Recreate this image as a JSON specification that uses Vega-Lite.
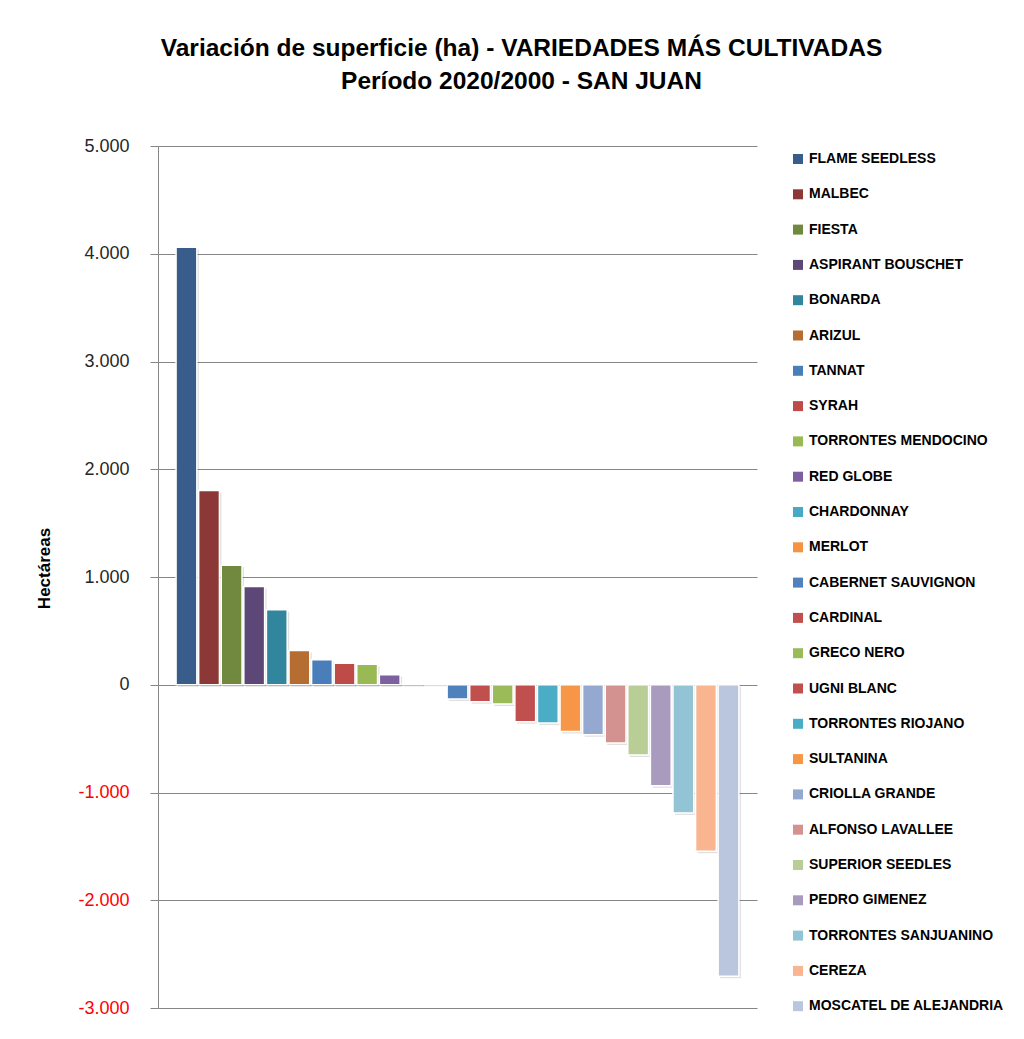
{
  "$schema": "https://vega.github.io/schema/vega-lite/v6.json",
  "autosize": {"type": "none"},
  "width": 599,
  "height": 862,
  "padding": {"left": 158, "top": 146, "right": 267, "bottom": 31},
  "background": "white",
  "config": {"view": {"stroke": null}, "font": "Liberation Sans"},
  "title": {
    "text": ["Variación de superficie (ha) - VARIEDADES MÁS CULTIVADAS", "Período 2020/2000 - SAN JUAN"],
    "fontSize": 24.5,
    "fontWeight": "bold",
    "color": "#000000",
    "anchor": "middle",
    "dx": 64,
    "lineHeight": 33,
    "offset": 43,
    "font": "Liberation Sans"
  },
  "data": {
    "values": [
      {"variedad": "FLAME SEEDLESS", "ha": 4060},
      {"variedad": "MALBEC", "ha": 1802},
      {"variedad": "FIESTA", "ha": 1108},
      {"variedad": "ASPIRANT BOUSCHET", "ha": 912},
      {"variedad": "BONARDA", "ha": 696},
      {"variedad": "ARIZUL", "ha": 318},
      {"variedad": "TANNAT", "ha": 232},
      {"variedad": "SYRAH", "ha": 200},
      {"variedad": "TORRONTES MENDOCINO", "ha": 191},
      {"variedad": "RED GLOBE", "ha": 93},
      {"variedad": "CHARDONNAY", "ha": 4},
      {"variedad": "MERLOT", "ha": -2},
      {"variedad": "CABERNET SAUVIGNON", "ha": -133},
      {"variedad": "CARDINAL", "ha": -158},
      {"variedad": "GRECO NERO", "ha": -179},
      {"variedad": "UGNI BLANC", "ha": -343},
      {"variedad": "TORRONTES RIOJANO", "ha": -356},
      {"variedad": "SULTANINA", "ha": -433},
      {"variedad": "CRIOLLA GRANDE", "ha": -464},
      {"variedad": "ALFONSO LAVALLEE", "ha": -541},
      {"variedad": "SUPERIOR SEEDLES", "ha": -652},
      {"variedad": "PEDRO GIMENEZ", "ha": -937},
      {"variedad": "TORRONTES SANJUANINO", "ha": -1190},
      {"variedad": "CEREZA", "ha": -1546},
      {"variedad": "MOSCATEL DE ALEJANDRIA", "ha": -2706}
    ]
  },
  "encoding": {
    "x": {
      "field": "variedad",
      "type": "nominal",
      "sort": null,
      "axis": null,
      "scale": {"paddingInner": 0.08, "paddingOuter": 0.8}
    },
    "y": {
      "field": "ha",
      "type": "quantitative",
      "scale": {"domain": [-3000, 5000], "nice": false, "zero": false},
      "axis": {
        "values": [-3000, -2000, -1000, 0, 1000, 2000, 3000, 4000, 5000],
        "title": "Hectáreas",
        "titleFontSize": 17,
        "titleFontWeight": "bold",
        "titleColor": "#000000",
        "titleX": -114,
        "titleY": 422,
        "titleAngle": 270,
        "titleAlign": "center",
        "titleBaseline": "middle",
        "labelExpr": "(datum.value < 0 ? '-' : '') + replace(format(abs(datum.value), ','), ',', '.')",
        "labelFontSize": 18,
        "labelColor": {"condition": {"test": "datum.value < 0", "value": "#FF0000"}, "value": "#262626"},
        "labelPadding": 21,
        "tickSize": 8,
        "tickColor": "#868686",
        "domainColor": "#868686",
        "gridColor": "#868686",
        "gridWidth": 1
      }
    }
  },
  "layer": [
    {
      "mark": {"type": "bar", "color": "#000000", "opacity": 0.12, "xOffset": 2, "yOffset": 2}
    },
    {
      "mark": {"type": "bar", "stroke": "#FFFFFF", "strokeWidth": 1.5},
      "encoding": {
        "color": {
          "field": "variedad",
          "type": "nominal",
          "scale": {
            "domain": ["FLAME SEEDLESS", "MALBEC", "FIESTA", "ASPIRANT BOUSCHET", "BONARDA", "ARIZUL", "TANNAT", "SYRAH", "TORRONTES MENDOCINO", "RED GLOBE", "CHARDONNAY", "MERLOT", "CABERNET SAUVIGNON", "CARDINAL", "GRECO NERO", "UGNI BLANC", "TORRONTES RIOJANO", "SULTANINA", "CRIOLLA GRANDE", "ALFONSO LAVALLEE", "SUPERIOR SEEDLES", "PEDRO GIMENEZ", "TORRONTES SANJUANINO", "CEREZA", "MOSCATEL DE ALEJANDRIA"],
            "range": ["#385D8A", "#8C3836", "#71893F", "#5C4776", "#31859C", "#B66D31", "#4A7EBB", "#BE4B48", "#98B954", "#7D60A0", "#46AAC5", "#F69240", "#4F81BD", "#C0504D", "#9BBB59", "#C0504D", "#4BACC6", "#F79646", "#95A9D0", "#D39290", "#B9CD96", "#A99BBD", "#92C4D5", "#F9B590", "#B9C6DE"]
          },
          "legend": {
            "title": null,
            "orient": "none",
            "legendX": 633,
            "legendY": 6,
            "symbolType": "square",
            "symbolSize": 100,
            "symbolStrokeWidth": 0,
            "labelFontSize": 14,
            "labelFontWeight": "bold",
            "labelFont": "Liberation Sans",
            "labelOffset": 4,
            "labelLimit": 400,
            "rowPadding": 21.3,
            "padding": 0,
            "encode": {
              "labels": {
                "update": {
                  "fill": {"signal": "indexof(['CABERNET SAUVIGNON','CARDINAL','GRECO NERO','UGNI BLANC','TORRONTES RIOJANO','SULTANINA','CRIOLLA GRANDE','ALFONSO LAVALLEE','SUPERIOR SEEDLES','PEDRO GIMENEZ','TORRONTES SANJUANINO','CEREZA','MOSCATEL DE ALEJANDRIA'], datum.value) >= 0 ? '#FF0000' : '#1A1A1A'"}
                }
              }
            }
          }
        }
      }
    }
  ]
}
